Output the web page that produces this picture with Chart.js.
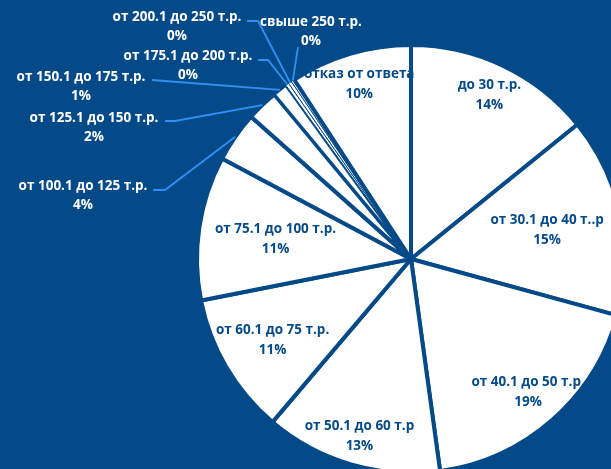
<!DOCTYPE html>
<html>
<head>
<meta charset="utf-8">
<script src="https://cdn.jsdelivr.net/npm/chart.js@4"></script>
<style>
  html, body { margin: 0; padding: 0; background: #054a88; overflow: hidden; }
  #wrap { width: 611px; height: 469px; }
</style>
</head>
<body>
<div id="wrap"><canvas id="myChart" width="611" height="469"></canvas></div>
<script>
const categories = ['до 30 т.р.', 'от 30.1 до 40 т..р', 'от 40.1 до 50 т.р.', 'от 50.1 до 60 т.р',
  'от 60.1 до 75 т.р.', 'от 75.1 до 100 т.р.', 'от 100.1 до 125 т.р.', 'от 125.1 до 150 т.р.',
  'от 150.1 до 175 т.р.', 'от 175.1 до 200 т.р.', 'от 200.1 до 250 т.р.', 'свыше 250 т.р.', 'отказ от ответа'];
const shares = [14.2, 15.1, 18.6, 13.4, 10.7, 10.9, 3.8, 2.4, 1.1, 0.25, 0.25, 0.25, 9.2];
const percentLabels = ['14%', '15%', '19%', '13%', '11%', '11%', '4%', '2%', '1%', '0%', '0%', '0%', '10%'];

const BG = '#054a88';
const LEADER = '#2e90f5';
const FONT = 'bold 13.5px "Open Sans", Lato, sans-serif';

// label placement: inside slices -> fraction of radius; outside -> text centre + elbow
const labelPos = [
  {r: 0.85}, {r: 0.65}, {r: 0.83}, {r: 0.86}, {r: 0.75}, {r: 0.64},
  {tx: 83, ty: 186, ex: 153, ey: 190, k: 12},
  {tx: 94, ty: 118, ex: 165, ey: 121, k: 10},
  {tx: 81, ty: 77, ex: 152, ey: 80, k: 0},
  {tx: 188, ty: 56, ex: 258, ey: 60, k: 10},
  {tx: 177, ty: 17, ex: 247, ey: 21, k: 11},
  {tx: 311, ty: 22, ex: 298, ey: 47, k: 0},
  {r: 0.85}
];

const sliceLabels = {
  id: 'sliceLabels',
  afterDatasetsDraw(chart) {
    const ctx = chart.ctx;
    const arcs = chart.getDatasetMeta(0).data;
    ctx.save();
    ctx.font = FONT;
    ctx.textAlign = 'center';
    ctx.textBaseline = 'middle';
    arcs.forEach((arc, i) => {
      const mid = (arc.startAngle + arc.endAngle) / 2;
      const p = labelPos[i];
      if (p.r !== undefined) {
        const rr = arc.outerRadius * p.r;
        const x = arc.x + Math.cos(mid) * rr;
        const y = arc.y + Math.sin(mid) * rr;
        ctx.fillStyle = BG;
        ctx.fillText(categories[i], x, y - 10);
        ctx.fillText(percentLabels[i], x, y + 10);
      } else {
        const sx = arc.x + Math.cos(mid) * arc.outerRadius;
        const sy = arc.y + Math.sin(mid) * arc.outerRadius;
        ctx.strokeStyle = LEADER;
        ctx.lineWidth = 1.8;
        ctx.beginPath();
        ctx.moveTo(p.ex, p.ey);
        ctx.lineTo(p.ex + p.k, p.ey);
        ctx.lineTo(sx, sy);
        ctx.stroke();
        ctx.fillStyle = '#ffffff';
        ctx.fillText(categories[i], p.tx, p.ty);
        ctx.fillText(percentLabels[i], p.tx, p.ty + 19);
      }
    });
    ctx.restore();
  }
};

new Chart(document.getElementById('myChart'), {
  type: 'pie',
  data: {
    labels: categories,
    datasets: [{
      data: shares,
      backgroundColor: '#ffffff',
      borderColor: BG,
      borderWidth: [4, 4, 4, 4, 4, 4, 4, 4, 3, 1, 1, 1, 4],
      radius: 214,
      clip: false
    }]
  },
  options: {
    responsive: false,
    animation: false,
    layout: { padding: { left: 211, top: 49, right: 0, bottom: 0 } },
    plugins: {
      legend: { display: false },
      tooltip: { enabled: false }
    }
  },
  plugins: [sliceLabels]
});
</script>
</body>
</html>
